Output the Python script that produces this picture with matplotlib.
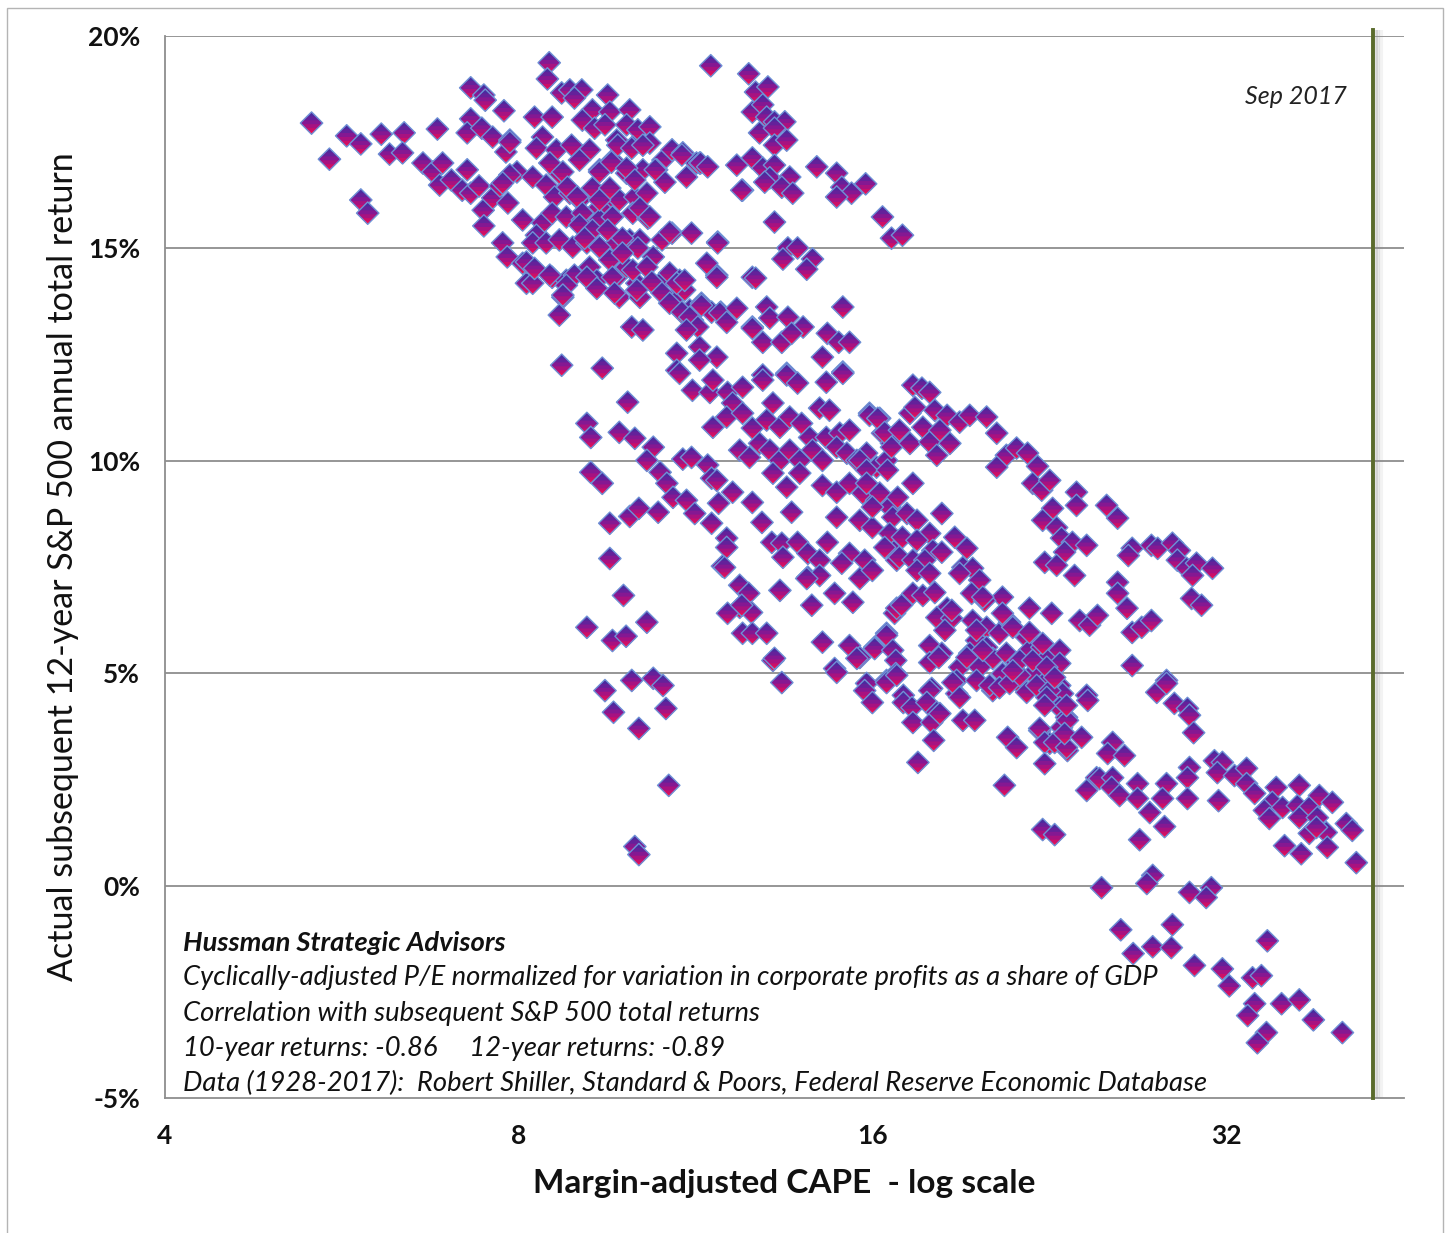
import matplotlib
matplotlib.use("Agg")
import matplotlib.pyplot as plt
from matplotlib.path import Path
from matplotlib.patches import Rectangle
from matplotlib.collections import PathCollection
from matplotlib.transforms import IdentityTransform
from matplotlib.colors import to_rgba
from matplotlib.ticker import FixedLocator, FixedFormatter, NullLocator
import numpy as np

plt.rcParams["font.family"] = ["Lato", "DejaVu Sans"]

# (margin-adjusted CAPE, subsequent 12-year annual total return %)
upper_left = [
    (5.33, 17.95), (5.52, 17.10), (5.71, 17.65), (5.87, 17.46), (6.11, 17.69), (6.21, 17.22),
    (6.39, 17.72), (6.37, 17.25), (5.87, 16.14), (5.95, 15.83), (6.82, 17.81), (6.63, 17.01),
    (6.76, 16.80), (6.89, 17.01), (6.85, 16.49), (7.01, 16.61), (7.16, 16.37), (7.23, 16.85),
    (7.28, 16.30), (7.40, 16.47), (7.46, 15.90), (7.47, 15.53), (7.60, 16.19), (7.71, 16.47),
    (7.83, 16.07), (7.97, 16.80), (7.86, 16.73), (7.28, 18.78), (7.47, 18.61), (7.49, 18.49),
    (7.28, 18.05), (7.23, 17.72), (7.44, 17.83), (7.60, 17.62), (7.77, 18.24), (7.86, 17.55),
    (7.80, 17.27), (8.25, 18.09), (8.54, 18.09), (8.49, 19.37), (8.46, 18.99), (8.70, 18.66),
    (8.84, 18.73), (9.05, 18.73), (8.92, 18.54), (9.52, 18.61), (9.24, 18.26), (9.56, 18.21),
    (9.94, 18.26), (9.06, 18.02), (9.28, 17.83), (9.47, 17.91), (9.88, 17.91), (10.10, 17.79),
    (10.34, 17.86), (8.38, 17.62), (8.28, 17.36), (8.61, 17.32), (8.87, 17.43), (9.19, 17.32),
    (9.69, 17.55), (10.00, 17.39), (10.34, 17.48), (10.61, 17.08), (10.80, 17.32), (11.03, 17.25),
    (11.33, 17.01), (8.22, 16.68), (8.44, 16.49), (8.66, 16.77), (9.01, 17.08), (9.37, 16.85),
    (9.61, 17.08), (9.88, 16.77), (10.20, 16.85), (10.48, 16.85), (10.65, 16.56), (8.58, 16.21),
    (8.84, 16.30), (9.01, 16.14), (9.24, 16.37), (9.56, 16.14), (9.74, 16.14), (10.04, 16.21),
    (10.28, 16.30), (9.37, 15.97), (10.00, 15.83), (10.30, 15.71), (8.06, 15.67), (8.38, 15.60),
    (8.54, 15.83), (8.78, 15.74), (9.06, 15.67), (9.37, 15.67), (9.61, 15.74), (8.28, 15.31),
    (8.22, 15.13), (8.44, 15.13), (8.66, 15.20), (8.89, 15.03), (9.14, 15.13), (9.42, 14.96),
    (9.69, 15.13), (9.94, 15.20), (10.14, 15.20), (10.41, 14.80), (10.59, 15.20), (10.80, 15.36),
    (11.22, 15.36), (7.75, 15.13), (7.82, 14.80), (8.06, 14.65), (8.12, 14.18), (8.54, 14.32),
    (8.78, 14.25), (8.72, 13.85), (8.66, 13.43), (8.22, 14.18), (9.19, 14.56), (9.32, 14.25),
    (9.56, 14.73), (9.69, 14.32), (9.88, 14.56), (10.08, 14.18), (9.74, 13.85), (10.14, 13.85),
    (10.55, 14.18), (10.75, 14.42), (10.96, 14.25), (11.07, 14.02), (10.80, 13.78), (11.03, 13.48),
    (9.98, 13.15), (10.20, 13.08), (10.90, 12.53), (10.90, 12.13), (8.70, 12.25), (9.42, 12.18),
    (11.18, 13.55),
    (7.86, 17.50), (8.50, 17.01), (8.72, 16.80), (7.75, 16.54), (8.80, 16.44), (8.97, 16.21),
    (9.24, 16.42), (9.37, 16.80), (9.59, 17.03), (9.71, 17.43), (9.88, 16.89), (9.98, 17.36),
    (10.20, 17.43), (10.45, 16.85), (11.01, 17.20), (11.40, 17.01), (12.40, 16.37), (10.04, 16.61),
    (9.56, 16.42), (9.37, 16.14), (10.14, 15.95), (10.34, 15.74), (9.06, 15.83), (9.01, 15.55),
    (9.24, 15.43), (9.52, 15.43), (9.80, 15.24), (10.10, 15.01), (9.80, 14.89), (9.37, 15.03),
    (9.10, 15.24), (8.12, 14.68), (8.25, 14.53), (8.50, 14.37), (8.92, 14.37), (8.78, 14.13),
    (9.14, 14.32), (9.32, 14.06), (9.61, 14.32), (9.65, 13.95), (10.00, 14.49), (10.28, 14.56),
    (10.08, 14.02), (10.38, 14.21), (10.59, 13.95), (10.90, 14.18), (10.75, 13.71), (11.01, 13.50),
    (11.24, 13.31), (11.44, 13.71), (11.67, 13.50), (11.88, 13.50), (12.64, 13.15), (8.72, 13.90),
    (10.75, 15.38), (11.81, 15.15), (11.79, 14.37), (12.64, 14.32), (11.11, 16.68),
]

upper_mid = [
    (11.65, 19.30), (12.55, 19.11), (12.72, 18.68), (13.03, 18.80), (12.64, 18.21), (12.90, 18.38),
    (13.00, 18.09), (13.20, 17.98), (13.47, 17.98), (12.82, 17.72), (13.20, 17.83), (13.20, 17.43),
    (13.52, 17.55), (11.42, 17.01), (11.58, 16.92), (12.26, 16.96), (12.64, 17.13), (12.90, 16.89),
    (13.20, 16.96), (13.08, 16.66), (12.95, 16.56), (13.60, 16.68), (13.39, 16.44), (13.68, 16.30),
    (12.38, 16.37), (14.34, 16.92), (14.91, 16.77), (15.06, 16.44), (15.35, 16.30), (14.91, 16.21),
    (15.78, 16.52), (13.20, 15.62), (16.31, 15.74), (16.60, 15.24), (16.96, 15.31), (11.81, 15.13),
    (13.55, 15.01), (13.81, 15.01), (13.42, 14.75), (14.22, 14.75), (14.06, 14.51), (11.56, 14.65),
    (11.79, 14.32), (12.72, 14.30), (11.07, 14.25), (15.09, 13.62), (11.44, 13.66), (11.86, 13.48),
    (12.26, 13.59), (13.00, 13.62), (12.02, 13.26), (13.08, 13.36), (13.55, 13.38), (13.96, 13.15),
    (12.64, 13.12), (12.90, 12.79), (13.39, 12.79), (13.65, 13.00), (14.64, 13.00), (14.97, 12.79),
    (15.29, 12.79), (14.50, 12.44), (11.18, 13.38), (11.36, 13.15), (11.11, 13.08), (11.40, 12.68),
    (11.79, 12.44), (11.40, 12.37), (15.09, 12.09), (13.52, 12.06), (12.90, 12.02),
]

middle = [
    (9.90, 11.38), (9.14, 10.88), (9.21, 10.55), (9.74, 10.67), (10.04, 10.53), (10.41, 10.32),
    (10.28, 10.01), (11.03, 10.04), (11.22, 10.08), (11.58, 9.90), (9.21, 9.73), (9.42, 9.47),
    (10.55, 9.73), (10.69, 9.47), (10.82, 9.14), (11.11, 9.07), (11.67, 9.59), (11.79, 9.54),
    (12.16, 9.26), (11.83, 9.00), (9.56, 8.53), (9.94, 8.69), (10.12, 8.88), (10.51, 8.79),
    (11.29, 8.76), (11.67, 8.53), (12.02, 8.18), (12.02, 7.96), (12.64, 9.02), (12.88, 8.55),
    (13.65, 8.79), (9.56, 7.70), (11.92, 7.52), (13.13, 8.08), (13.39, 8.06), (13.81, 8.08),
    (13.42, 7.73), (14.64, 8.08), (14.91, 8.67), (15.60, 8.60), (14.09, 7.82), (14.42, 7.66),
    (14.09, 7.26), (14.42, 7.30), (15.29, 7.82), (15.75, 7.66), (15.06, 7.59), (15.60, 7.23),
    (15.99, 7.42), (9.82, 6.83), (12.33, 7.07), (12.55, 6.88), (13.34, 6.95), (14.85, 6.88),
    (15.39, 6.67), (14.20, 6.60), (12.33, 6.55), (12.04, 6.41), (12.62, 6.43), (9.14, 6.08),
    (9.61, 5.77), (9.87, 5.87), (10.28, 6.20), (12.40, 5.94), (12.64, 5.94), (13.00, 5.94),
    (14.50, 5.73), (15.29, 5.65), (15.60, 5.37), (16.06, 5.61), (16.44, 5.94), (13.16, 5.30),
    (13.39, 4.78), (14.85, 5.11), (16.70, 6.41), (9.47, 4.59), (9.98, 4.83), (10.41, 4.88),
    (10.61, 4.71), (15.81, 4.76), (16.44, 4.83),
    (10.96, 12.06), (11.24, 11.66), (11.63, 11.61), (11.70, 11.90), (12.04, 11.61), (12.16, 11.36),
    (12.40, 11.73), (12.90, 11.90), (13.52, 12.02), (13.81, 11.83), (14.61, 11.85), (15.09, 12.06),
    (14.42, 11.24), (14.70, 11.19), (11.70, 10.79), (12.02, 11.03), (12.40, 11.12), (12.64, 10.77),
    (13.00, 10.96), (13.16, 11.36), (13.34, 10.79), (13.60, 11.03), (13.92, 10.88), (14.14, 10.55),
    (14.61, 10.55), (15.00, 10.65), (15.29, 10.72), (15.90, 11.12), (16.22, 11.00), (16.31, 10.65),
    (16.60, 10.41), (12.33, 10.25), (12.57, 10.08), (12.82, 10.41), (13.08, 10.25), (13.34, 10.01),
    (13.60, 10.25), (13.87, 10.01), (14.22, 10.25), (14.50, 10.01), (14.91, 10.32), (15.21, 10.18),
    (15.51, 10.01), (15.81, 10.18), (16.12, 9.85), (16.44, 10.01), (13.16, 9.71), (13.52, 9.38),
    (13.87, 9.71), (14.50, 9.42), (14.91, 9.26), (15.29, 9.47), (15.69, 9.24), (16.12, 9.07),
    (16.54, 8.91), (15.99, 8.43), (16.54, 7.96), (16.77, 7.66),
    (11.97, 7.49), (12.38, 6.60), (13.20, 5.35), (14.06, 7.23), (15.51, 5.35), (14.91, 5.02),
    (15.75, 4.59), (15.99, 4.31), (9.63, 4.08), (10.12, 3.70), (10.67, 4.17), (10.73, 2.36),
    (10.04, 0.92), (10.12, 0.73),
]

right_band = [
    (17.31, 11.78), (17.62, 11.71), (17.89, 11.61), (15.90, 11.07), (16.16, 11.00), (17.21, 11.12),
    (17.38, 11.26), (18.07, 11.19), (18.51, 11.07), (18.97, 10.91), (19.35, 11.07), (20.00, 11.03),
    (20.40, 10.65), (16.38, 10.67), (16.60, 10.32), (16.86, 10.72), (17.21, 10.41), (17.65, 10.79),
    (17.89, 10.44), (18.25, 10.72), (18.61, 10.41), (18.14, 10.13), (20.79, 10.13), (21.21, 10.30),
    (21.67, 10.18), (20.40, 9.85), (22.10, 9.87), (21.89, 9.47), (22.28, 9.31), (22.63, 9.54),
    (23.85, 9.26), (23.85, 8.95), (25.30, 8.95), (25.85, 8.65), (22.76, 8.88), (22.32, 8.60),
    (22.94, 8.43), (23.16, 8.18), (23.66, 8.08), (23.30, 7.85), (24.33, 8.01), (22.41, 7.61),
    (22.94, 7.54), (23.76, 7.30), (26.60, 7.94), (26.40, 7.77), (27.62, 8.01), (27.96, 7.94),
    (28.78, 8.06), (29.18, 7.89), (29.06, 7.66), (29.59, 7.47), (30.17, 7.59), (29.94, 7.30),
    (31.13, 7.47), (25.85, 7.14), (25.85, 6.88), (26.33, 6.53), (29.88, 6.76), (30.47, 6.60),
    (24.00, 6.24), (24.47, 6.13), (24.85, 6.36), (21.75, 6.53), (22.72, 6.41), (26.60, 5.96),
    (27.10, 6.08), (27.62, 6.24), (26.60, 5.18), (28.45, 4.83), (27.91, 4.55), (20.63, 6.79),
    (19.24, 7.94), (18.79, 8.20), (18.32, 8.76), (17.31, 9.47), (15.60, 10.01), (15.81, 9.78),
    (16.47, 9.78), (15.81, 9.47), (16.22, 9.24), (16.80, 9.14), (15.99, 8.91), (16.64, 8.67),
    (17.11, 8.76), (17.45, 8.60), (17.89, 8.29), (16.54, 8.29), (16.96, 8.20), (17.45, 8.13),
    (18.00, 7.89), (18.32, 7.85), (16.38, 7.96), (16.86, 7.73), (17.31, 7.66), (17.72, 7.66),
    (17.45, 7.42), (17.89, 7.35), (19.09, 7.49), (19.46, 7.47), (18.97, 7.35), (19.73, 7.19),
    (19.42, 6.88), (19.92, 6.71), (17.31, 6.88), (17.65, 6.83), (18.07, 6.90), (16.77, 6.53),
    (16.93, 6.60), (18.51, 6.53), (18.14, 6.31), (18.68, 6.29), (18.43, 6.01), (16.44, 5.89),
    (16.06, 5.58), (16.64, 5.54), (17.89, 5.65), (18.32, 5.47), (16.74, 5.30), (17.89, 5.25),
    (19.46, 6.24), (20.00, 6.08), (19.61, 5.77), (20.00, 5.61), (20.51, 5.94), (20.92, 6.20),
    (20.24, 5.35), (20.79, 5.47), (21.21, 5.25), (21.63, 5.84), (21.75, 5.54), (22.28, 5.61),
    (22.50, 5.35), (23.08, 5.54), (23.08, 5.23), (19.35, 5.47), (18.97, 5.14), (19.73, 5.14),
    (18.86, 4.83), (19.61, 4.83), (20.63, 4.99), (21.21, 4.83), (21.89, 4.99), (22.50, 4.83),
    (23.08, 4.71), (18.86, 4.52), (20.24, 4.59), (21.63, 4.55), (23.21, 4.52), (24.33, 4.48),
    (17.96, 4.64), (16.74, 4.99), (16.44, 4.78), (16.99, 4.48),
    (16.77, 4.95), (16.99, 4.31), (17.28, 4.19), (17.31, 3.84), (17.89, 4.59), (17.79, 4.31),
    (18.14, 4.08), (17.96, 3.84), (18.03, 3.42), (17.48, 2.90), (18.21, 5.37), (18.68, 6.48),
    (18.72, 4.78), (19.24, 5.37), (20.12, 4.71), (20.51, 4.66), (19.85, 5.54), (20.92, 4.76),
    (21.34, 4.95), (22.06, 4.71), (22.63, 4.59), (22.50, 4.43), (23.08, 4.19), (23.39, 3.96),
    (23.16, 3.72), (22.19, 3.65), (22.63, 3.35), (23.43, 3.18), (24.81, 2.54), (19.85, 6.79),
    (20.63, 6.41), (21.05, 6.08), (21.75, 5.96), (22.32, 5.70), (21.34, 5.30), (21.89, 5.30),
    (22.50, 5.14), (21.05, 5.06), (22.85, 4.90), (19.61, 6.01),
]

tail = [
    (18.97, 4.43), (18.25, 4.05), (19.09, 3.89), (19.54, 3.89), (20.84, 3.49), (21.21, 3.25),
    (22.19, 3.70), (22.41, 3.37), (22.85, 3.37), (22.41, 2.87), (23.39, 3.25), (23.43, 3.89),
    (23.30, 3.58), (22.41, 4.24), (23.39, 4.24), (24.09, 3.49), (24.38, 4.36), (20.71, 2.36),
    (22.32, 1.32), (22.85, 1.20), (25.60, 3.37), (25.35, 3.11), (26.20, 3.06), (24.33, 2.24),
    (24.95, 2.52), (25.60, 2.54), (25.55, 2.31), (25.95, 2.12), (26.88, 2.40), (26.88, 2.05),
    (27.53, 1.72), (28.45, 2.40), (28.23, 2.05), (28.34, 1.39), (26.99, 1.08), (28.45, 4.76),
    (28.89, 4.29), (29.64, 4.17), (29.76, 4.01), (30.00, 3.60), (29.76, 2.78), (29.64, 2.54),
    (29.64, 2.05), (31.50, 2.00), (31.25, 2.94), (31.74, 2.90), (31.43, 2.66), (32.50, 2.59),
    (33.28, 2.76), (33.28, 2.40), (33.81, 2.17), (35.27, 2.31), (35.00, 1.96), (34.46, 1.77),
    (34.80, 1.58), (35.71, 1.84), (36.90, 2.36), (36.76, 1.88), (37.63, 1.84), (38.38, 2.12),
    (39.37, 1.96), (36.90, 1.60), (38.23, 1.60), (38.90, 1.25), (37.63, 1.23), (38.16, 1.37),
    (35.85, 0.94), (37.04, 0.75), (38.98, 0.90), (40.46, 1.46), (40.94, 1.30), (41.26, 0.54),
    (25.05, -0.05), (27.69, 0.24), (27.37, 0.05), (29.76, -0.16), (31.06, -0.05), (30.75, -0.28),
    (26.01, -1.04), (28.78, -0.92), (27.69, -1.44), (28.72, -1.46), (26.65, -1.60), (30.05, -1.88),
    (31.74, -1.96), (32.17, -2.36), (33.67, -2.17), (34.26, -2.12), (34.66, -1.30), (33.81, -2.78),
    (33.35, -3.06), (35.64, -2.78), (36.90, -2.69), (37.93, -3.16), (34.60, -3.46), (33.99, -3.70),
    (40.15, -3.46),
]

yticks = [-5, 0, 5, 10, 15, 20]
ytick_labels = ["-5%", "0%", "5%", "10%", "15%", "20%"]
xticks = [4, 8, 16, 32]
xtick_labels = ["4", "8", "16", "32"]
latest_cape = 42.6

notes = [
    "Cyclically-adjusted P/E normalized for variation in corporate profits as a share of GDP",
    "Correlation with subsequent S&P 500 total returns",
    "10-year returns: -0.86     12-year returns: -0.89",
    "Data (1928-2017):  Robert Shiller, Standard & Poors, Federal Reserve Economic Database",
]

pts = np.array(upper_left + upper_mid + middle + right_band + tail)
cape = pts[:, 0]
ret12 = pts[:, 1]

W, H = 1452, 1233
fig = plt.figure(figsize=(W / 100, H / 100), dpi=100)
ax = fig.add_axes([165 / W, 1 - 1098 / H, (1404 - 165) / W, (1098 - 36) / H])
ax.set_xscale("log", base=2)
ax.set_xlim(4, 45.3)
ax.set_ylim(-5, 20)

grid_col = "#8e8e8e"
for y in [0, 5, 10, 15, 20]:
    ax.axhline(y, color=grid_col, lw=1.3, zorder=1)
for side in ["top", "right"]:
    ax.spines[side].set_visible(False)
for side in ["left", "bottom"]:
    ax.spines[side].set_color(grid_col)
    ax.spines[side].set_linewidth(1.3)


def lower_part(c):
    # part of the diamond below height c (unit half-diagonal = 0.5)
    if c >= 0:
        v = [(-(1 - c), c), (1 - c, c), (1, 0), (0, -1), (-1, 0), (-(1 - c), c)]
    else:
        v = [(-(1 + c), c), (1 + c, c), (0, -1), (-(1 + c), c)]
    return Path(np.array(v) * 0.5, closed=True)


diamond = Path(np.array([(0, 1), (1, 0), (0, -1), (-1, 0), (0, 1)]) * 0.5, closed=True)
bands = [(diamond, "#4a2b9e"), (lower_part(0.6), "#64219a"), (lower_part(0.25), "#851892"),
         (lower_part(-0.1), "#a81280"), (lower_part(-0.45), "#cc0f68"), (lower_part(-0.72), "#ec1150")]
edge_col = "#6f92d6"
none = (0, 0, 0, 0)

# every point gets its gradient bands and outline, in order, so later points sit on top
layer_paths = [p for p, _ in bands] + [diamond]
layer_fc = [to_rgba(c) for _, c in bands] + [none]
layer_ec = [none] * len(bands) + [to_rgba(edge_col)]
layer_lw = [0.0] * len(bands) + [1.0]
k = len(layer_paths)
n = len(cape)
coll = PathCollection(layer_paths * n, sizes=[260],
                      offsets=np.repeat(np.column_stack([cape, ret12]), k, axis=0),
                      offset_transform=ax.transData,
                      facecolors=layer_fc * n, edgecolors=layer_ec * n,
                      linewidths=layer_lw * n, zorder=3)
coll.set_transform(IdentityTransform())
ax.add_collection(coll, autolim=False)

# latest valuation marker line with its soft shadow
for dx, a in [(1.016, 0.10), (1.011, 0.16), (1.006, 0.24)]:
    ax.plot([latest_cape * dx] * 2, [-5, 20.15], color="#8a8a8a", alpha=a, lw=3,
            clip_on=False, zorder=4, solid_capstyle="butt")
ax.plot([latest_cape] * 2, [-5, 20.15], color="#5a6b2c", lw=2.8, clip_on=False, zorder=5)

ax.xaxis.set_major_locator(FixedLocator(xticks))
ax.xaxis.set_major_formatter(FixedFormatter(xtick_labels))
ax.xaxis.set_minor_locator(NullLocator())
ax.yaxis.set_major_locator(FixedLocator(yticks))
ax.yaxis.set_major_formatter(FixedFormatter(ytick_labels))
ax.tick_params(axis="both", length=0, labelsize=19, colors="#111111")
ax.tick_params(axis="x", pad=19)
ax.tick_params(axis="y", pad=18)
for lab in ax.get_xticklabels() + ax.get_yticklabels():
    lab.set_fontweight("bold")

ax.text(0.954, 0.943, "Sep 2017", transform=ax.transAxes, ha="right", va="center",
        fontsize=18, style="italic", color="#222222")

ax.text(0.0145, 0.146, "Hussman Strategic Advisors", transform=ax.transAxes,
        ha="left", va="center", fontsize=19.7, style="italic", weight="bold", color="#111111")
for i, line in enumerate(notes):
    ax.text(0.0145, 0.113 - i * 0.033, line, transform=ax.transAxes,
            ha="left", va="center", fontsize=19.7, style="italic", color="#111111")

fig.text(63 / W, 1 - 567 / H, "Actual subsequent 12-year S&P 500 annual total return",
         rotation=90, ha="center", va="center", fontsize=24.5, color="#111111")
fig.text(784 / W, 1 - 1183 / H, "Margin-adjusted CAPE  - log scale",
         ha="center", va="center", fontsize=24, weight="bold", color="#111111")

fig.add_artist(Rectangle((7 / W, -0.01), (1443 - 7) / W, 1 - 8 / H + 0.01,
                         transform=fig.transFigure, fill=False, ec="#b4b4b4", lw=1))

fig.savefig("out.png", dpi=100)
